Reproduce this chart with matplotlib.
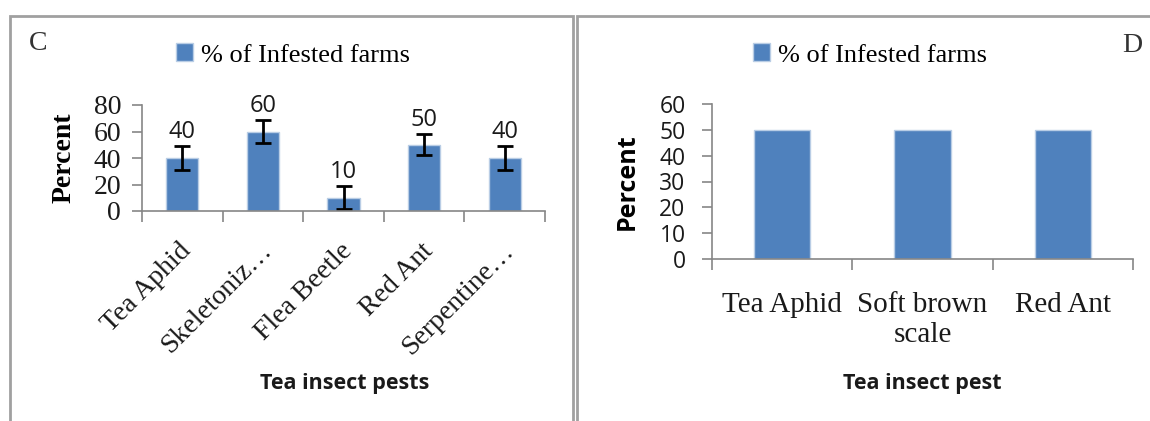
import matplotlib
matplotlib.use("Agg")
import matplotlib.pyplot as plt
import matplotlib.transforms as mtransforms
from matplotlib.patches import Rectangle

# Data
pests_c = ["Tea Aphid", "Skeletoniz…", "Flea Beetle", "Red Ant", "Serpentine…"]
infested_c = [40, 60, 10, 50, 40]
err_c = [9, 9, 8.5, 8, 9]
yticks_c = [0, 20, 40, 60, 80]

pests_d = ["Tea Aphid", "Soft brown\nscale", "Red Ant"]
infested_d = [50, 50, 50]
yticks_d = [0, 10, 20, 30, 40, 50, 60]

legend_label = "% of Infested farms"
bar_color = "#4F81BD"
edge_color = "#B9CDE5"
axis_grey = "#868686"
text_col = "#1a1a1a"
serif = "Liberation Serif"
sans = "Open Sans"

W, H = 1150, 421
fig = plt.figure(figsize=(W / 100, H / 100), dpi=100)

def fx(px):
    return px / W

def fy(py):
    return 1 - py / H

# Panel borders
for (x0, x1) in [(10, 573), (577, 1160)]:
    fig.patches.append(Rectangle((fx(x0), fy(440)), fx(x1) - fx(x0), fy(16) - fy(440),
                                 transform=fig.transFigure, fill=False,
                                 edgecolor="#a0a0a0", linewidth=2.0))

def style_axes(ax):
    for s in ["top", "right"]:
        ax.spines[s].set_visible(False)
    for s in ["left", "bottom"]:
        ax.spines[s].set_color(axis_grey)
        ax.spines[s].set_linewidth(1.2)
    ax.tick_params(axis="both", which="major", color=axis_grey, length=7,
                   width=1.2, labelcolor=text_col)

# ---------- Panel C ----------
axc = fig.add_axes([fx(142), fy(211), fx(545) - fx(142), fy(105) - fy(211)])
xc = list(range(len(pests_c)))
bars = axc.bar(xc, infested_c, width=0.40, color=bar_color, edgecolor=edge_color,
               linewidth=1, label=legend_label)
axc.errorbar(xc, infested_c, yerr=err_c, fmt="none", ecolor="black",
             elinewidth=2, capsize=6, capthick=2)
for xi, v, e in zip(xc, infested_c, err_c):
    axc.text(xi, v + e + 1.5, str(v), ha="center", va="bottom",
             fontsize=17, family=sans, color=text_col)
axc.set_xlim(-0.5, len(pests_c) - 0.5)
axc.set_ylim(0, 80)
axc.set_yticks(yticks_c)
axc.set_yticklabels([str(t) for t in yticks_c], family=serif, fontsize=20)
axc.set_xticks([i - 0.5 for i in range(len(pests_c) + 1)], minor=False)
axc.set_xticklabels([""] * (len(pests_c) + 1))
axc.set_xticks(xc, minor=True)
axc.set_xticklabels(pests_c, minor=True, rotation=45, ha="right", va="center",
                    rotation_mode="anchor", family=serif, fontsize=20,
                    color=text_col)
style_axes(axc)
axc.tick_params(axis="y", which="major", pad=8)
axc.tick_params(axis="x", which="major", length=8)
axc.tick_params(axis="x", which="minor", length=0, pad=26)
shift = mtransforms.ScaledTranslation(0.05, 0, fig.dpi_scale_trans)
for lbl in axc.get_xticklabels(minor=True):
    lbl.set_transform(lbl.get_transform() + shift)
axc.set_ylabel("Percent", family=serif, fontweight="bold", fontsize=20,
               labelpad=12, color="black")
fig.text(fx(345), fy(383), "Tea insect pests", family=sans, fontweight="bold",
         fontsize=15.5, ha="center", va="center", color=text_col)
fig.text(fx(29), fy(43), "C", family=serif, fontsize=20, ha="left", va="center",
         color="#333333")
fig.legend(handles=[bars], labels=[legend_label], loc="center",
           bbox_to_anchor=(fx(293), fy(55)), frameon=False,
           prop={"family": serif, "size": 19}, handlelength=0.65,
           handleheight=0.65, handletextpad=0.3)

# ---------- Panel D ----------
axd = fig.add_axes([fx(712), fy(259), fx(1133) - fx(712), fy(104) - fy(259)])
xd = list(range(len(pests_d)))
bars_d = axd.bar(xd, infested_d, width=0.40, color=bar_color, edgecolor=edge_color,
                 linewidth=1, label=legend_label)
axd.set_xlim(-0.5, len(pests_d) - 0.5)
axd.set_ylim(0, 60)
axd.set_yticks(yticks_d)
axd.set_yticklabels([str(t) for t in yticks_d], family=sans, fontsize=16.5)
axd.set_xticks([i - 0.5 for i in range(len(pests_d) + 1)])
axd.set_xticklabels([""] * (len(pests_d) + 1))
axd.set_xticks(xd, minor=True)
axd.set_xticklabels(pests_d, minor=True, family=serif, fontsize=21,
                    color=text_col, linespacing=1.2)
style_axes(axd)
axd.tick_params(axis="y", which="major", pad=12)
axd.tick_params(axis="x", which="major", length=8)
axd.tick_params(axis="x", which="minor", length=0, pad=24)
axd.set_ylabel("Percent", family=sans, fontweight="bold", fontsize=18,
               labelpad=14, color="black")
fig.text(fx(922), fy(383), "Tea insect pest", family=sans, fontweight="bold",
         fontsize=15.5, ha="center", va="center", color=text_col)
fig.text(fx(1142), fy(46), "D", family=serif, fontsize=20, ha="right",
         va="center", color="#333333")
fig.legend(handles=[bars_d], labels=[legend_label], loc="center",
           bbox_to_anchor=(fx(870), fy(55)), frameon=False,
           prop={"family": serif, "size": 19}, handlelength=0.65,
           handleheight=0.65, handletextpad=0.3)

fig.savefig("out.png", dpi=100)
